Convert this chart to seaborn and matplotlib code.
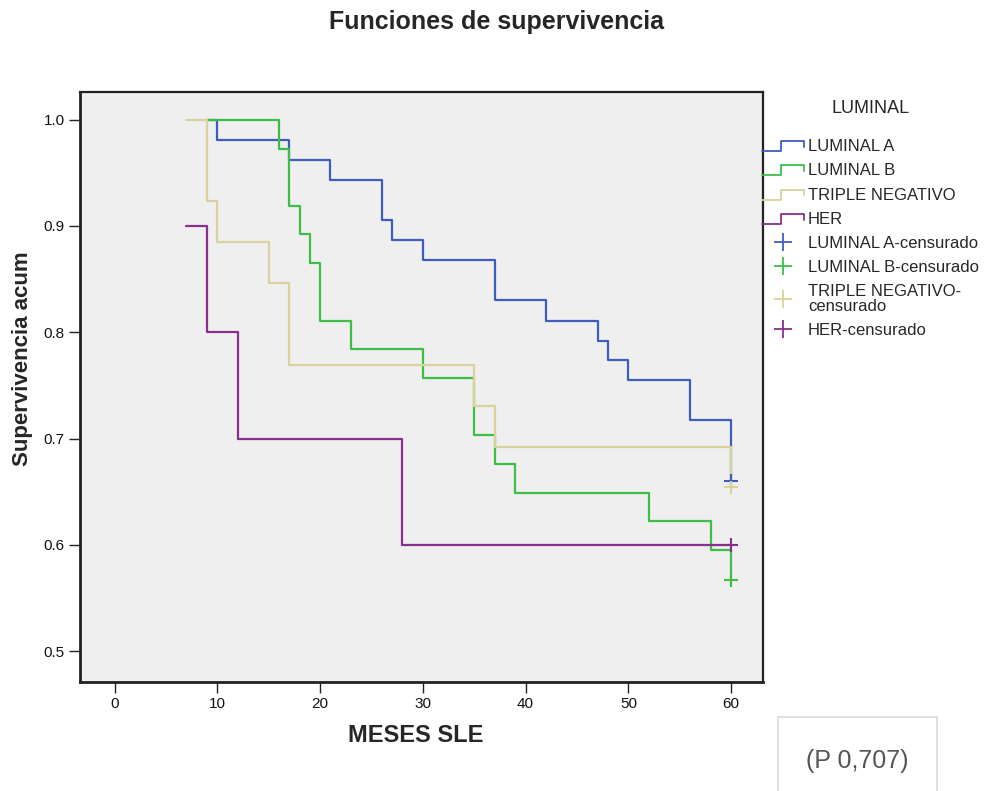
import numpy as np
import pandas as pd
import matplotlib
matplotlib.use("Agg")
import matplotlib.pyplot as plt
import seaborn as sns
from matplotlib.lines import Line2D
from matplotlib.legend_handler import HandlerBase
from matplotlib.patches import Rectangle

# ---------------- data ----------------
groups = ["LUMINAL A", "LUMINAL B", "TRIPLE NEGATIVO", "HER"]
colors = ["#3F5DBC", "#3DBF45", "#D9D29C", "#8A2E8E"]

lumA_t = [9, 10, 17, 21, 26, 27, 30, 37, 42, 47, 48, 50, 56, 60]
lumA_s = [1.0, 0.981, 0.962, 0.943, 0.906, 0.887, 0.868, 0.830, 0.811, 0.792, 0.774, 0.755, 0.717, 0.660]

lumB_t = [9, 16, 17, 18, 19, 20, 23, 30, 35, 37, 39, 52, 58, 60]
lumB_s = [1.0, 0.972, 0.919, 0.892, 0.865, 0.811, 0.784, 0.757, 0.703, 0.676, 0.649, 0.622, 0.595, 0.567]

tn_t = [7, 9, 10, 15, 17, 35, 37, 60]
tn_s = [1.0, 0.923, 0.885, 0.846, 0.769, 0.731, 0.692, 0.654]

her_t = [7, 9, 12, 28, 60]
her_s = [0.9, 0.8, 0.7, 0.6, 0.6]

cens_t = [60, 60, 60, 60]
cens_s = [0.660, 0.567, 0.654, 0.600]

legend_labels_cens = ["LUMINAL A-censurado", "LUMINAL B-censurado",
                      "TRIPLE NEGATIVO-\ncensurado", "HER-censurado"]
xticks = [0, 10, 20, 30, 40, 50, 60]
yticks = [0.5, 0.6, 0.7, 0.8, 0.9, 1.0]

df = pd.concat([
    pd.DataFrame({"t": lumA_t, "s": lumA_s, "grupo": groups[0]}),
    pd.DataFrame({"t": lumB_t, "s": lumB_s, "grupo": groups[1]}),
    pd.DataFrame({"t": tn_t, "s": tn_s, "grupo": groups[2]}),
    pd.DataFrame({"t": her_t, "s": her_s, "grupo": groups[3]}),
], ignore_index=True)
dfc = pd.DataFrame({"t": cens_t, "s": cens_s, "grupo": groups})

# ---------------- style ----------------
sns.set_style("white")
plt.rcParams["font.family"] = ["Liberation Sans", "DejaVu Sans"]

fig = plt.figure(figsize=(9.95, 7.91), dpi=100)
ax = fig.add_axes([80 / 995, 1 - 682 / 791, (763 - 80) / 995, (682 - 92) / 791])
ax.set_facecolor("#efefef")

pal = dict(zip(groups, colors))
sns.lineplot(data=df, x="t", y="s", hue="grupo", hue_order=groups, palette=pal,
             drawstyle="steps-post", estimator=None, sort=False, lw=1.6,
             legend=False, ax=ax)
sns.scatterplot(data=dfc, x="t", y="s", hue="grupo", hue_order=groups, palette=pal,
                marker="+", s=100, linewidth=1.5, legend=False, ax=ax, zorder=5)

ax.set_xlim(-3.36, 63.1)
ax.set_ylim(0.471, 1.026)
ax.set_xticks(xticks)
ax.set_xticklabels([str(v) for v in xticks])
ax.set_yticks(yticks)
ax.set_yticklabels([f"{v:.1f}" for v in yticks])
ax.set_xlabel("")
ax.set_ylabel("")
ax.tick_params(axis="both", direction="out", length=8, width=1.0, color="#222222",
               labelsize=11, pad=3, labelcolor="#111111")
ax.tick_params(left=True, bottom=True)
for sp in ax.spines.values():
    sp.set_color("#222222")
    sp.set_linewidth(1.6)
ax.spines["left"].set_linewidth(2.0)
ax.spines["bottom"].set_linewidth(2.0)


class StepHandler(HandlerBase):
    def create_artists(self, legend, orig_handle, xdescent, ydescent,
                       width, height, fontsize, trans):
        x0 = -xdescent
        w = width
        h = height
        xs = [x0, x0 + 0.45 * w, x0 + 0.45 * w, x0 + w, x0 + w]
        ys = [-ydescent + 0.0 * h, -ydescent + 0.0 * h, -ydescent + 0.85 * h,
              -ydescent + 0.85 * h, -ydescent + 0.35 * h]
        ln = Line2D(xs, ys, color=orig_handle.get_color(), lw=1.3)
        ln.set_transform(trans)
        return [ln]


step_handles = [Line2D([], [], color=c, lw=1.3) for c in colors]
cens_handles = [Line2D([], [], color=c, marker="+", ls="none", ms=13, mew=1.3)
                for c in colors]
hmap = {h: StepHandler() for h in step_handles}

leg = ax.legend(step_handles + cens_handles, groups + legend_labels_cens,
                handler_map=hmap, loc="upper left",
                bbox_to_anchor=(762 / 995, 1 - 100 / 791), bbox_transform=fig.transFigure,
                frameon=False, title="LUMINAL", fontsize=12, title_fontsize=13,
                handlelength=2.5, handletextpad=0.25, labelspacing=0.55,
                borderpad=0, borderaxespad=0)
for t in leg.get_texts():
    t.set_linespacing(0.95)
leg._legend_box.sep = 16

# ---------------- text ----------------
fig.text(496.5 / 995, 1 - 22 / 791, "Funciones de supervivencia", ha="center", va="center",
         fontsize=18, fontweight="bold")
fig.text(23 / 995, 1 - 359 / 791, "Supervivencia acum", ha="center", va="center",
         rotation=90, fontsize=16, fontweight="bold")
fig.text(416 / 995, 1 - 736 / 791, "MESES SLE", ha="center", va="center",
         fontsize=17, fontweight="bold")

fig.patches.append(Rectangle((778 / 995, -0.02), (937 - 778) / 995, (791 - 717) / 791 + 0.02,
                             transform=fig.transFigure, facecolor="white",
                             edgecolor="#d9d9d9", lw=1.2))
fig.text(857 / 995, 1 - 761 / 791, "(P 0,707)", ha="center", va="center",
         fontsize=18, color="#555555")

fig.savefig("out.png", dpi=100)
